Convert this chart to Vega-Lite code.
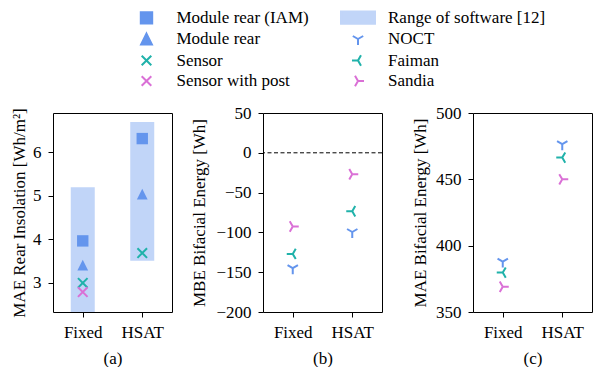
{
  "$schema": "https://vega.github.io/schema/vega-lite/v6.json",
  "autosize": {"type": "pad"},
  "padding": {"left": 10, "top": 9, "right": 0, "bottom": 0},
  "bounds": "flush",
  "spacing": 91,
  "datasets": {
    "rear": [
      {"x": "Fixed", "series": "Module rear (IAM)", "y": 3.96},
      {"x": "Fixed", "series": "Module rear", "y": 3.4},
      {"x": "Fixed", "series": "Sensor", "y": 2.99},
      {"x": "Fixed", "series": "Sensor with post", "y": 2.78},
      {"x": "HSAT", "series": "Module rear (IAM)", "y": 6.32},
      {"x": "HSAT", "series": "Module rear", "y": 5.04},
      {"x": "HSAT", "series": "Sensor", "y": 3.68}
    ],
    "range": [
      {"x": "Fixed", "series": "Range of software [12]", "lo": 2.0, "hi": 5.2},
      {"x": "HSAT", "series": "Range of software [12]", "lo": 3.5, "hi": 6.7}
    ],
    "mbe": [
      {"x": "Fixed", "series": "NOCT", "y": -145},
      {"x": "Fixed", "series": "Faiman", "y": -127},
      {"x": "Fixed", "series": "Sandia", "y": -92.5},
      {"x": "HSAT", "series": "NOCT", "y": -99.5},
      {"x": "HSAT", "series": "Faiman", "y": -73.5},
      {"x": "HSAT", "series": "Sandia", "y": -27}
    ],
    "mae": [
      {"x": "Fixed", "series": "NOCT", "y": 388},
      {"x": "Fixed", "series": "Faiman", "y": 379.7},
      {"x": "Fixed", "series": "Sandia", "y": 369},
      {"x": "HSAT", "series": "NOCT", "y": 476.5},
      {"x": "HSAT", "series": "Faiman", "y": 466.4},
      {"x": "HSAT", "series": "Sandia", "y": 450}
    ]
  },
  "resolve": {
    "scale": {"color": "shared", "shape": "shared", "y": "independent", "x": "independent"},
    "legend": {"color": "shared", "shape": "shared"}
  },
  "hconcat": [
    {
      "width": 119,
      "height": 199,
      "layer": [
        {
          "data": {"name": "range"},
          "mark": {"type": "bar", "width": 24, "clip": true},
          "encoding": {
            "x": {"field": "x", "type": "nominal", "scale": {"type": "point", "padding": 0.5, "domain": ["Fixed", "HSAT"]}, "axis": {"title": "(a)", "labelAngle": 0}},
            "y": {"field": "lo", "type": "quantitative", "scale": {"domain": [2.32, 6.91], "nice": false, "zero": false}, "axis": {"title": "MAE Rear Insolation [Wh/m²]", "values": [3, 4, 5, 6], "titlePadding": 4}},
            "y2": {"field": "hi"},
            "color": {"field": "series", "type": "nominal", "scale": {"domain": ["Module rear (IAM)", "Module rear", "Sensor", "Sensor with post", "Range of software [12]", "NOCT", "Faiman", "Sandia"], "range": ["#6495ED", "#6495ED", "#20B2AA", "#DA70D6", "#C1D5F8", "#6495ED", "#20B2AA", "#DA70D6"]},
              "legend": {"orient": "none", "legendX": 85, "legendY": -104, "columns": 2, "title": null, "padding": 0, "symbolSize": 144, "symbolStrokeWidth": 2, "labelFont": "Liberation Serif", "labelFontSize": 17, "labelOffset": 21.5, "columnPadding": 27.5, "rowPadding": 1.5, "labelLimit": 400,
                "encode": {"symbols": {"update": {
                  "fill": {"signal": "indexof(['Module rear (IAM)','Module rear','Range of software [12]'], datum.value) >= 0 ? scale('color', datum.value) : 'transparent'"},
                  "stroke": {"signal": "indexof(['Module rear (IAM)','Module rear','Range of software [12]'], datum.value) >= 0 ? 'transparent' : scale('color', datum.value)"},
                  "opacity": {"value": 1}}}}}}
          }
        },
        {
          "data": {"name": "rear"},
          "transform": [{"filter": "datum.series === 'Module rear (IAM)' || datum.series === 'Module rear'"}],
          "mark": {"type": "point", "filled": true, "size": 144, "strokeWidth": 0, "opacity": 1},
          "encoding": {
            "x": {"field": "x", "type": "nominal"},
            "y": {"field": "y", "type": "quantitative"},
            "color": {"field": "series", "type": "nominal"},
            "shape": {"field": "series", "type": "nominal", "scale": {"domain": ["Module rear (IAM)", "Module rear", "Sensor", "Sensor with post", "Range of software [12]", "NOCT", "Faiman", "Sandia"], "range": ["M-0.95,-0.95H0.95V0.95H-0.95Z", "M0,-0.9L0.9,0.9L-0.9,0.9Z", "M-0.8,-0.8L0.8,0.8M-0.8,0.8L0.8,-0.8", "M-0.8,-0.8L0.8,0.8M-0.8,0.8L0.8,-0.8", "M-2.83,-1.04H2.83V1.04H-2.83Z", "M0,0L0,1M0,0L-0.866,-0.5M0,0L0.866,-0.5", "M0,0L-1,0M0,0L0.5,-0.866M0,0L0.5,0.866", "M0,0L1,0M0,0L-0.5,-0.866M0,0L-0.5,0.866"]},
              "legend": {"orient": "none", "legendX": 85, "legendY": -104, "columns": 2, "title": null, "padding": 0, "symbolSize": 144, "symbolStrokeWidth": 2, "labelFont": "Liberation Serif", "labelFontSize": 17, "labelOffset": 21.5, "columnPadding": 27.5, "rowPadding": 1.5, "labelLimit": 400}}
          }
        },
        {
          "data": {"name": "rear"},
          "transform": [{"filter": "datum.series === 'Sensor' || datum.series === 'Sensor with post'"}],
          "mark": {"type": "point", "filled": false, "size": 144, "strokeWidth": 2, "opacity": 1},
          "encoding": {
            "x": {"field": "x", "type": "nominal"},
            "y": {"field": "y", "type": "quantitative"},
            "color": {"field": "series", "type": "nominal"},
            "shape": {"field": "series", "type": "nominal"}
          }
        }
      ]
    },
    {
      "width": 119,
      "height": 199,
      "layer": [
        {
          "data": {"name": "mbe"},
          "mark": {"type": "point", "filled": false, "size": 144, "strokeWidth": 2, "opacity": 1},
          "encoding": {
            "x": {"field": "x", "type": "nominal", "scale": {"type": "point", "padding": 0.5, "domain": ["Fixed", "HSAT"]}, "axis": {"title": "(b)", "labelAngle": 0}},
            "y": {"field": "y", "type": "quantitative", "scale": {"domain": [-200, 50], "nice": false, "zero": false}, "axis": {"title": "MBE Bifacial Energy [Wh]", "values": [-200, -150, -100, -50, 0, 50], "titlePadding": 7.5}},
            "color": {"field": "series", "type": "nominal"},
            "shape": {"field": "series", "type": "nominal"}
          }
        },
        {
          "data": {"values": [{"z": 0}]},
          "mark": {"type": "rule", "color": "black", "strokeWidth": 1, "strokeDash": [4, 2.5]},
          "encoding": {"y": {"field": "z", "type": "quantitative", "axis": {"title": "MBE Bifacial Energy [Wh]", "values": [-200, -150, -100, -50, 0, 50], "titlePadding": 7.5}}}
        }
      ]
    },
    {
      "width": 119,
      "height": 199,
      "data": {"name": "mae"},
      "mark": {"type": "point", "filled": false, "size": 144, "strokeWidth": 2, "opacity": 1},
      "encoding": {
        "x": {"field": "x", "type": "nominal", "scale": {"type": "point", "padding": 0.5, "domain": ["Fixed", "HSAT"]}, "axis": {"title": "(c)", "labelAngle": 0}},
        "y": {"field": "y", "type": "quantitative", "scale": {"domain": [350, 500], "nice": false, "zero": false}, "axis": {"title": "MAE Bifacial Energy [Wh]", "values": [350, 400, 450, 500], "titlePadding": 6.5}},
        "color": {"field": "series", "type": "nominal"},
        "shape": {"field": "series", "type": "nominal"}
      }
    }
  ],
  "config": {
    "font": "Liberation Serif",
    "view": {"stroke": "black", "strokeWidth": 1},
    "axis": {"labelFont": "Liberation Serif", "titleFont": "Liberation Serif", "labelFontSize": 17, "titleFontSize": 17, "titleFontWeight": "normal", "labelColor": "black", "titleColor": "black", "tickColor": "black", "tickSize": 5, "tickWidth": 1, "domain": false, "grid": false, "labelPadding": 7, "titlePadding": 10, "labelOverlap": false},
    "legend": {"labelColor": "black", "labelFont": "Liberation Serif"}
  }
}
